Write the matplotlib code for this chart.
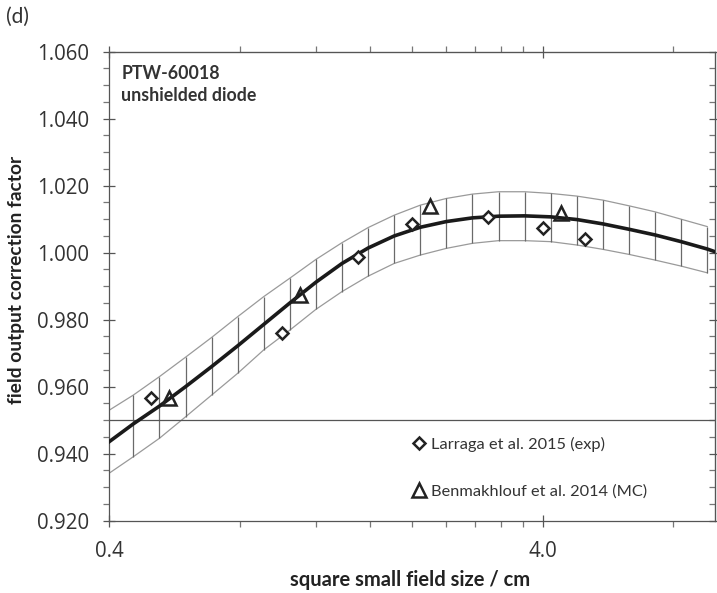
import matplotlib
matplotlib.use("Agg")
import matplotlib.pyplot as plt
from matplotlib.ticker import FixedLocator, FormatStrFormatter, MultipleLocator, NullFormatter

# fitted curve and its uncertainty band
band_x = [0.4, 0.4545, 0.5221, 0.5998, 0.689, 0.7914, 0.9091, 1.0443, 1.1996,
          1.378, 1.5829, 1.8183, 2.0887, 2.3993, 2.7561, 3.166, 3.6368,
          4.1776, 4.7988, 5.5124, 6.3322, 7.2738, 8.3555, 9.598]
band_upper = [0.9530, 0.9575, 0.9630, 0.9688, 0.9747, 0.9809, 0.9869, 0.9924,
              0.9980, 1.0030, 1.0075, 1.0112, 1.0142, 1.0162, 1.0175, 1.0182,
              1.0182, 1.0177, 1.0169, 1.0157, 1.0140, 1.0122, 1.0100, 1.0078]
band_lower = [0.9342, 0.9391, 0.9446, 0.9510, 0.9575, 0.9640, 0.9710, 0.9769,
              0.9831, 0.9884, 0.9930, 0.9968, 0.9993, 1.0013, 1.0028, 1.0036,
              1.0036, 1.0033, 1.0023, 1.0010, 0.9995, 0.9978, 0.9960, 0.9940]
curve_x = band_x + [10.0]
curve_y = [0.9436, 0.9489, 0.9542, 0.9600, 0.9660, 0.9722, 0.9786, 0.9850,
           0.9912, 0.9968, 1.0014, 1.0050, 1.0076, 1.0093, 1.0104, 1.0109,
           1.0110, 1.0107, 1.0099, 1.0086, 1.0070, 1.0053, 1.0033, 1.0011, 1.0003]

# measured / simulated points
larraga_x = [0.5, 1.0, 1.5, 2.0, 3.0, 4.0, 5.0]
larraga_y = [0.9567, 0.9761, 0.9986, 1.0085, 1.0106, 1.0073, 1.0041]
benmak_x = [0.55, 1.1, 2.2, 4.4]
benmak_y = [0.9565, 0.9874, 1.0139, 1.0119]

ref_level = 0.950

xmajor = [0.4, 4.0, 40.0]
xminor = [0.8, 1.2, 1.6, 2.0, 2.4, 2.8, 3.2, 3.6, 8.0]

plt.rcParams['font.family'] = ['Lato', 'DejaVu Sans']

fig = plt.figure(figsize=(7.17, 5.93), dpi=100)
ax = fig.add_axes([0.1524, 0.1219, 0.8448, 0.7909])

ax.plot(band_x, band_upper, color='#9a9a9a', lw=0.9, zorder=2)
ax.plot(band_x, band_lower, color='#9a9a9a', lw=0.9, zorder=2)
ax.vlines(band_x[1:], band_lower[1:], band_upper[1:], color='#6a6a6a', lw=0.9, zorder=2)
ax.axhline(ref_level, color='#555555', lw=0.9, zorder=2)
ax.plot(curve_x, curve_y, color='#1a1a1a', lw=2.6, zorder=3, solid_joinstyle='round')

ax.plot(larraga_x, larraga_y, ls='none', marker='D', ms=6.5, mfc='white',
        mec='#222222', mew=1.8, zorder=4, label='Larraga et al. 2015 (exp)')
ax.plot(benmak_x, benmak_y, ls='none', marker='^', ms=10, mfc='none',
        mec='#222222', mew=1.8, zorder=4, label='Benmakhlouf et al. 2014 (MC)')

ax.set_xscale('log')
ax.set_xlim(0.4, 10.0)
ax.set_ylim(0.920, 1.060)
ax.xaxis.set_major_locator(FixedLocator(xmajor))
ax.xaxis.set_minor_locator(FixedLocator(xminor))
ax.xaxis.set_major_formatter(FormatStrFormatter('%.1f'))
ax.xaxis.set_minor_formatter(NullFormatter())
ax.yaxis.set_major_locator(MultipleLocator(0.020))
ax.yaxis.set_minor_locator(MultipleLocator(0.005))
ax.yaxis.set_major_formatter(FormatStrFormatter('%.3f'))

for s in ax.spines.values():
    s.set_color('#555555')
    s.set_linewidth(0.9)

ax.tick_params(which='major', direction='inout', length=9, width=0.9, color='#555555',
               labelsize=14.8, labelcolor='#333333')
ax.tick_params(which='minor', direction='out', length=4, width=0.9, color='#777777')
ax.tick_params(axis='y', which='major', pad=10)
ax.tick_params(axis='x', which='major', pad=10)
for lab in ax.get_xticklabels() + ax.get_yticklabels():
    lab.set_family(['Open Sans', 'DejaVu Sans'])

# right and top ticks
sec_y = ax.secondary_yaxis('right')
sec_y.yaxis.set_major_locator(MultipleLocator(0.020))
sec_y.yaxis.set_minor_locator(MultipleLocator(0.005))
sec_y.tick_params(which='major', direction='inout', length=9, width=0.9, color='#555555', labelright=False)
sec_y.tick_params(which='minor', direction='in', length=4, width=0.9, color='#777777')
sec_y.spines['right'].set_color('#555555')

sec_x = ax.secondary_xaxis('top')
sec_x.xaxis.set_major_locator(FixedLocator(xmajor))
sec_x.xaxis.set_minor_locator(FixedLocator(xminor))
sec_x.tick_params(which='major', direction='inout', length=9, width=0.9, color='#555555', labeltop=False)
sec_x.tick_params(which='minor', direction='out', length=4, width=0.9, color='#777777')
sec_x.xaxis.set_minor_formatter(NullFormatter())
sec_x.spines['top'].set_color('#555555')

ax.set_xlabel('square small field size / cm', fontsize=14.5, fontweight='bold', color='#222222', labelpad=6)
ax.set_ylabel('field output correction factor', fontsize=13.8, fontweight='bold', color='#222222', labelpad=9)
ax.xaxis.label.set_x(0.496)
ax.yaxis.label.set_y(0.513)

ax.text(0.02, 0.972, 'PTW-60018\nunshielded diode', transform=ax.transAxes, fontsize=12.8,
        fontweight='bold', color='#333333', va='top', ha='left', linespacing=1.35)
fig.text(0.008, 0.972, '(d)', fontsize=15, color='#333333', va='center', ha='left')

ax.legend(loc='upper left', bbox_to_anchor=(0.49, 0.193), frameon=False, fontsize=11.8,
          handlelength=0.8, handletextpad=0.3, labelspacing=2.0, borderaxespad=0,
          labelcolor='#333333')

fig.savefig('out.png', dpi=100)
